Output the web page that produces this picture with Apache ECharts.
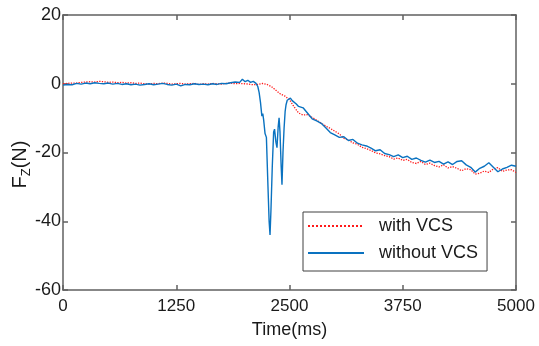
<!DOCTYPE html>
<html>
<head>
<meta charset="UTF-8">
<title>Fz with / without VCS</title>
<script src="https://cdn.jsdelivr.net/npm/echarts@6/dist/echarts.min.js"></script>
<style>
  html, body { margin: 0; padding: 0; background: #fff; }
  #main { width: 539px; height: 346px; }
</style>
</head>
<body>
<div id="main"></div>
<script>
// with VCS (red dotted), 50 ms steps
var withTime = [0, 50, 100, 150, 200, 250, 300, 350, 400, 450, 500, 550, 600, 650, 700, 750, 800, 850, 900, 950,
  1000, 1050, 1100, 1150, 1200, 1250, 1300, 1350, 1400, 1450, 1500, 1550, 1600, 1650, 1700, 1750, 1800, 1850, 1900, 1950,
  2000, 2050, 2100, 2150, 2200, 2250, 2300, 2350, 2400, 2450, 2500, 2550, 2600, 2650, 2700, 2750, 2800, 2850, 2900, 2950,
  3000, 3050, 3100, 3150, 3200, 3250, 3300, 3350, 3400, 3450, 3500, 3550, 3600, 3650, 3700, 3750, 3800, 3850, 3900, 3950,
  4000, 4050, 4100, 4150, 4200, 4250, 4300, 4350, 4400, 4450, 4500, 4550, 4600, 4650, 4700, 4750, 4800, 4850, 4900, 4950, 5000];
var withForce = [0.0, 0.1, 0.2, 0.2, 0.4, 0.5, 0.6, 0.5, 0.7, 0.6, 0.4, 0.5, 0.3, 0.4, 0.2, 0.3, 0.1, 0.2, 0.0, -0.1,
  0.1, 0.0, 0.2, 0.1, -0.1, 0.0, 0.1, -0.1, 0.0, 0.1, -0.2, 0.0, -0.1, 0.1, 0.0, -0.1, 0.1, 0.2, 0.0, 0.1,
  0.0, -0.1, -0.3, -0.2, 0.1, -0.2, -0.8, -1.9, -3.0, -3.6, -4.6, -6.7, -8.5, -9.1, -9.0, -9.8, -10.6, -11.5, -12.3, -13.0,
  -13.8, -14.6, -15.9, -16.4, -17.2, -17.6, -18.5, -18.9, -19.4, -20.1, -20.4, -20.9, -21.2, -21.9, -21.6, -22.3, -22.0, -22.9, -23.2, -22.6,
  -23.5, -23.1, -23.8, -24.2, -23.6, -24.5, -24.1, -24.6, -25.3, -24.7, -25.0, -26.3, -26.0, -25.4, -25.8, -24.8, -24.4, -25.5, -25.1, -25.0, -25.8];

// without VCS (blue solid), denser around the impact spikes
var withoutTime = [0, 50, 100, 150, 200, 250, 300, 350, 400, 450, 500, 550, 600, 650, 700, 750, 800, 850, 900, 950,
  1000, 1050, 1100, 1150, 1200, 1250, 1300, 1350, 1400, 1450, 1500, 1550, 1600, 1650, 1700, 1750, 1800, 1850, 1900, 1950,
  1980, 2010, 2040, 2070, 2100, 2130, 2150, 2165, 2180, 2195, 2205, 2215, 2230, 2245, 2260, 2275, 2285, 2295, 2310, 2325,
  2335, 2350, 2362, 2375, 2385, 2395, 2408, 2417, 2428, 2440, 2452, 2462, 2475, 2490, 2510, 2530, 2550, 2575, 2600, 2650,
  2700, 2750, 2800, 2850, 2900, 2950, 3000, 3050, 3100, 3150, 3200, 3250, 3300, 3350, 3400, 3450, 3500, 3550, 3600, 3650,
  3700, 3750, 3800, 3850, 3900, 3950, 4000, 4050, 4100, 4150, 4200, 4250, 4300, 4350, 4400, 4450, 4500, 4550, 4600, 4650,
  4700, 4750, 4800, 4850, 4900, 4950, 5000];
var withoutForce = [-0.4, -0.2, -0.3, 0.1, -0.1, 0.2, 0.0, 0.3, 0.1, 0.0, 0.2, -0.1, 0.1, -0.2, 0.0, -0.3, -0.1, -0.4, -0.2, 0.0,
  -0.3, -0.1, 0.1, -0.2, -0.4, -0.1, -0.6, -0.2, -0.3, 0.0, -0.2, -0.1, -0.3, 0.0, -0.2, 0.1, 0.0, 0.3, 0.5, 0.4,
  1.3, 0.6, 1.0, 0.4, 0.7, 0.1, -0.8, -2.6, -5.5, -9.4, -8.7, -10.6, -14.5, -15.6, -28.0, -40.0, -44.0, -37.0, -24.0, -14.0,
  -13.2, -17.0, -18.6, -12.5, -9.9, -14.0, -24.0, -29.4, -20.0, -13.0, -8.0, -6.1, -4.8, -4.5, -4.2, -4.9, -5.4, -5.9, -6.6, -7.0,
  -8.6, -10.2, -10.8, -11.5, -12.8, -14.2, -14.9, -15.6, -15.4, -16.5, -16.2, -17.3, -17.8, -18.1, -18.7, -19.5, -19.2, -20.3, -20.6, -21.2,
  -20.7, -21.5, -21.1, -22.0, -21.6, -22.3, -22.8, -22.2, -22.9, -22.6, -23.4, -22.7, -23.5, -22.6, -22.4, -23.6, -24.3, -25.7, -24.6, -24.0,
  -23.0, -24.3, -25.6, -24.8, -24.3, -23.7, -24.0];

var xTicks = [0, 1250, 2500, 3750, 5000];
var yTicks = [-60, -40, -20, 0, 20];

function pairs(t, v) {
  var out = [];
  for (var i = 0; i < t.length; i++) out.push([t[i], v[i]]);
  return out;
}

var frame = { show: true, onZero: false, lineStyle: { color: '#606060', width: 1.5 } };
var tickIn = { show: true, inside: true, length: 5, lineStyle: { color: '#606060', width: 1.5 } };
var font = 'Liberation Sans, Arial, sans-serif';

var myChart = echarts.init(document.getElementById('main'));
var option = {
  animation: false,
  backgroundColor: '#fff',
  grid: { left: 63, right: 23, top: 15, bottom: 56, outerBoundsMode: 'none', containLabel: false },
  legend: {
    orient: 'vertical',
    left: 303,
    top: 212,
    padding: [5, 9, 9, 4],
    itemWidth: 56,
    itemHeight: 18,
    itemGap: 9,
    backgroundColor: '#fff',
    borderColor: '#404040',
    borderWidth: 1,
    borderRadius: 0,
    itemStyle: { color: 'transparent', opacity: 0, borderWidth: 0 },
    textStyle: { fontFamily: font, fontSize: 18, color: '#1a1a1a', padding: [0, 0, 0, 10] },
    data: ['with VCS', 'without VCS']
  },
  xAxis: [{
    type: 'value', min: 0, max: 5000, interval: 1250,
    name: 'Time(ms)', nameLocation: 'middle', nameGap: 31, nameMoveOverlap: false,
    nameTextStyle: { fontFamily: font, fontSize: 18, color: '#1a1a1a' },
    axisLine: frame, axisTick: tickIn, splitLine: { show: false },
    axisLabel: { fontFamily: font, fontSize: 17, color: '#1a1a1a', margin: 8,
      formatter: function (v) { return xTicks.indexOf(v) >= 0 ? String(v) : ''; } }
  }, {
    type: 'value', position: 'top', min: 0, max: 5000, interval: 1250,
    axisLine: frame, axisTick: tickIn, splitLine: { show: false }, axisLabel: { show: false }
  }],
  yAxis: [{
    type: 'value', min: -60, max: 20, interval: 20,
    name: '{a|F}{b|Z}{a|(N)}', nameLocation: 'middle', nameGap: 30, nameRotate: 90, nameMoveOverlap: false,
    nameTextStyle: {
      fontFamily: font, color: '#1a1a1a', padding: [0, 24, 0, 0],
      rich: {
        a: { fontFamily: font, fontSize: 20, color: '#1a1a1a', lineHeight: 26, verticalAlign: 'middle' },
        b: { fontFamily: font, fontSize: 13, color: '#1a1a1a', lineHeight: 26, verticalAlign: 'bottom' }
      }
    },
    axisLine: frame, axisTick: tickIn, splitLine: { show: false },
    axisLabel: { fontFamily: font, fontSize: 18, color: '#1a1a1a', margin: 2,
      formatter: function (v) { return yTicks.indexOf(v) >= 0 ? String(v) : ''; } }
  }, {
    type: 'value', position: 'right', min: -60, max: 20, interval: 20,
    axisLine: frame, axisTick: tickIn, splitLine: { show: false }, axisLabel: { show: false }
  }],
  series: [{
    name: 'with VCS',
    type: 'line',
    showSymbol: false,
    symbol: 'none',
    lineStyle: { color: '#ff1a1a', width: 1.3, type: 'dotted' },
    itemStyle: { color: '#ff1a1a' },
    data: pairs(withTime, withForce)
  }, {
    name: 'without VCS',
    type: 'line',
    showSymbol: false,
    symbol: 'none',
    lineStyle: { color: '#0a72c0', width: 1.4 },
    itemStyle: { color: '#0a72c0' },
    data: pairs(withoutTime, withoutForce)
  }]
};
myChart.setOption(option);
</script>
</body>
</html>
